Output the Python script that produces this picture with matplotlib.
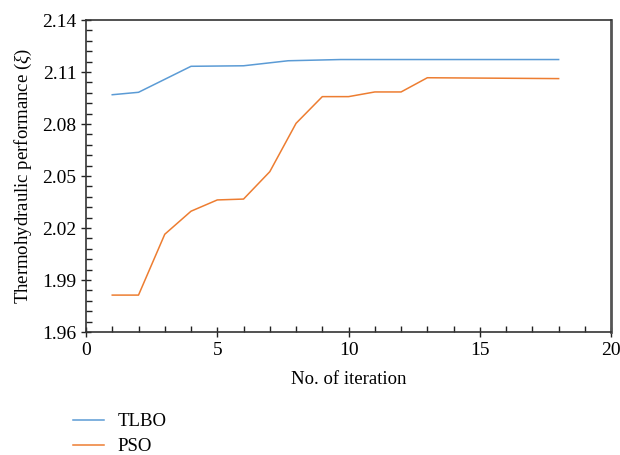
import matplotlib
matplotlib.use("Agg")
import matplotlib.pyplot as plt
from matplotlib.ticker import FixedLocator, MultipleLocator, FormatStrFormatter

plt.rcParams['font.family'] = ['Liberation Serif', 'DejaVu Serif']
plt.rcParams['mathtext.fontset'] = 'custom'
plt.rcParams['mathtext.it'] = 'Liberation Serif:italic'
plt.rcParams['mathtext.rm'] = 'Liberation Serif'

# data
tlbo_iter = [1, 2, 4, 6, 7.7, 9.7, 18]
tlbo_perf = [2.0969, 2.0983, 2.1133, 2.1136, 2.1165, 2.1172, 2.1172]

pso_iter = [1, 2, 3, 4, 5, 6, 7, 8, 9, 10, 11, 12, 13, 18]
pso_perf = [1.9813, 1.9813, 2.0164, 2.0297, 2.0362, 2.0367, 2.0525,
            2.0804, 2.0958, 2.0958, 2.0985, 2.0985, 2.1067, 2.1062]

y_ticks = [1.96, 1.99, 2.02, 2.05, 2.08, 2.11, 2.14]

blue = '#5B9BD5'
orange = '#ED7D31'

fig = plt.figure(figsize=(6.2, 4.55), dpi=100)
ax = fig.add_axes([0.1387, 0.2703, 0.847, 0.6857])

l1, = ax.plot(tlbo_iter, tlbo_perf, color=blue, lw=1.1, label='TLBO')
l2, = ax.plot(pso_iter, pso_perf, color=orange, lw=1.1, label='PSO')

ax.set_xlim(0, 20)
ax.set_ylim(1.96, 2.14)
ax.xaxis.set_major_locator(MultipleLocator(5))
ax.xaxis.set_minor_locator(MultipleLocator(1))
ax.yaxis.set_major_locator(FixedLocator(y_ticks))
minor_y = [y_ticks[0] + 0.006 * i for i in range(31)]
ax.yaxis.set_minor_locator(FixedLocator(minor_y))
ax.yaxis.set_major_formatter(FormatStrFormatter('%.2f'))

ax.tick_params(which='major', direction='inout', length=7, width=1, labelsize=14,
               top=False, right=False, color='#222222')
ax.tick_params(which='minor', direction='in', length=4, width=1,
               top=False, right=False, color='#222222')
for s in ax.spines.values():
    s.set_linewidth(1.2)
    s.set_color('#333333')
ax.spines['right'].set_linewidth(2)
ax.spines['right'].set_color('#555555')

ax.set_xlabel('No. of iteration', fontsize=13.5, labelpad=9)
ax.set_ylabel(r'Thermohydraulic performance ($\xi$)', fontsize=13.5, labelpad=6)

fig.legend(handles=[l1, l2], loc='upper left', bbox_to_anchor=(0.118, 0.092),
           frameon=False, fontsize=13.5, handlelength=1.65, handletextpad=0.7,
           labelspacing=0.42, borderaxespad=0, borderpad=0)

fig.savefig('out.png', dpi=100)
